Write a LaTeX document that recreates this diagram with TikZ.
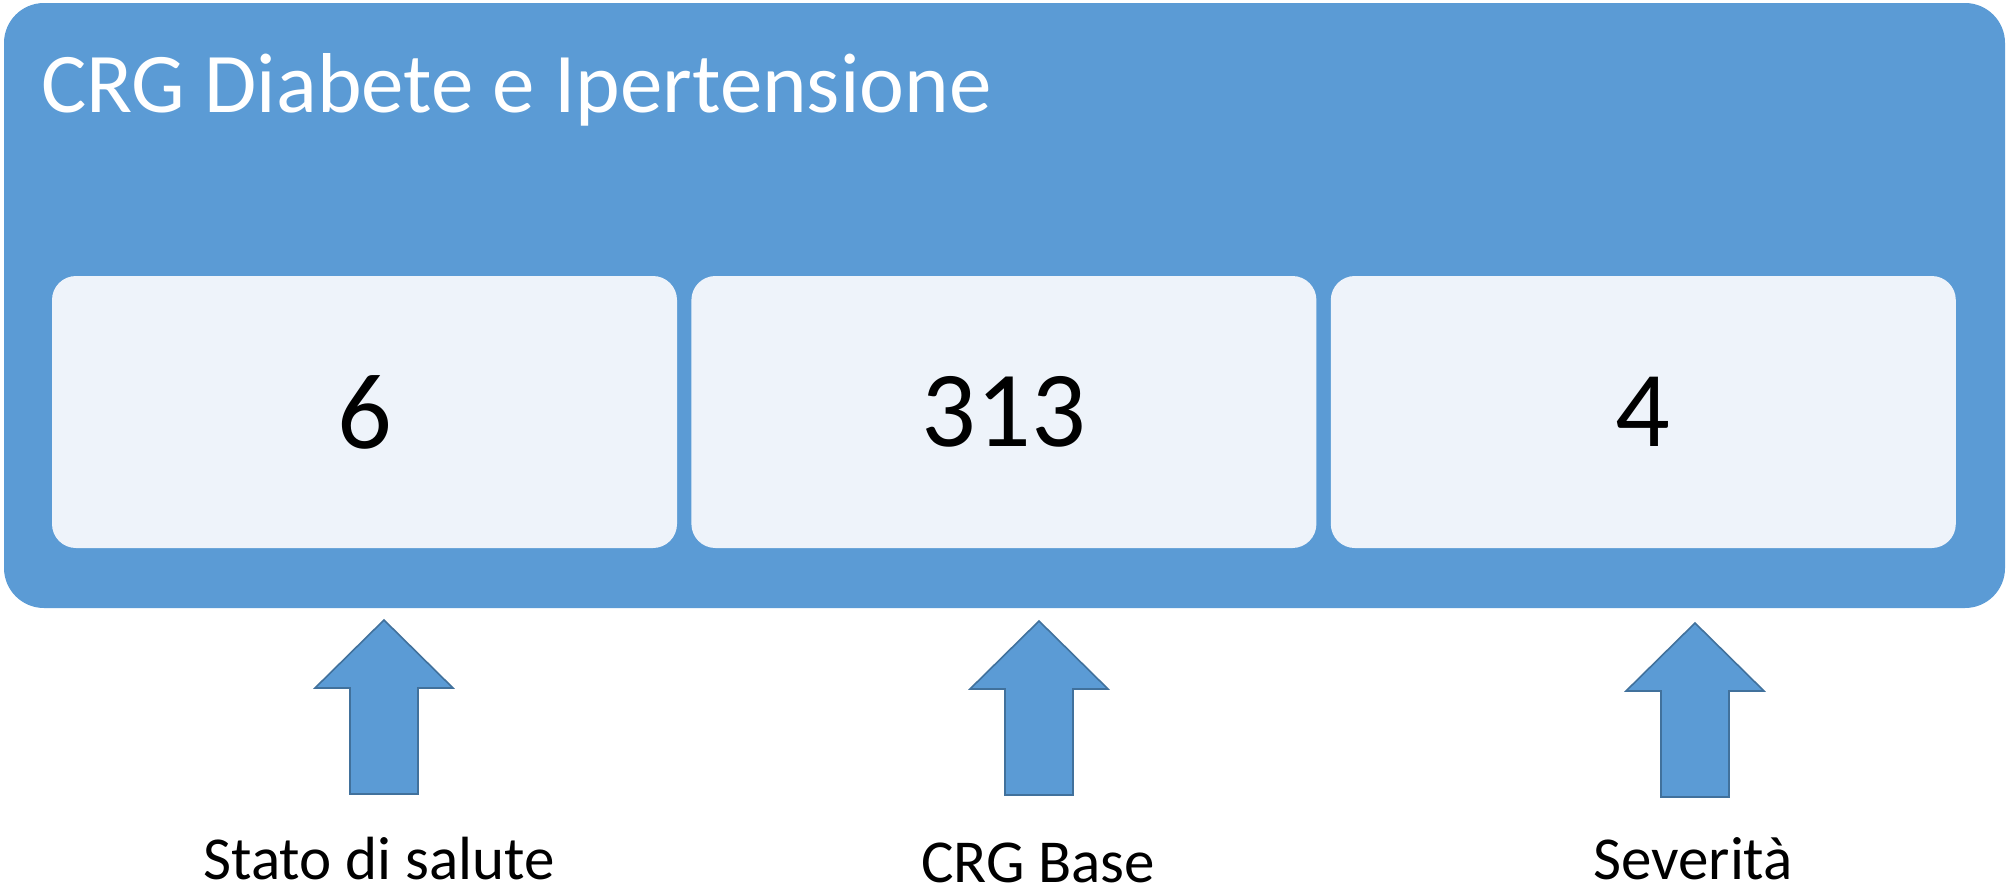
\documentclass[tikz,border=0pt]{standalone}
\usepackage{fontspec}
\setmainfont{Carlito}
\usepackage{xcolor}
\usepackage{tikz}
\usetikzlibrary{positioning}

\definecolor{crgblue}{HTML}{5B9BD5}
\definecolor{crglight}{HTML}{EEF3FA}
\definecolor{crgedge}{HTML}{41719C}

\tikzset{
    panel/.style={fill=crgblue, rounded corners=40pt, minimum width=2001pt, minimum height=605pt, inner sep=0pt},
    cell/.style={fill=crglight, rounded corners=24pt, minimum width=625pt, minimum height=272pt, inner sep=0pt, font=\fontsize{108}{120}\selectfont},
    titolo/.style={text=white, inner sep=0pt, font=\fontsize{85}{96}\selectfont},
    didascalia/.style={inner sep=0pt, font=\fontsize{61}{72}\selectfont},
    freccia/.style={fill=crgblue, draw=crgedge, line width=1.6pt, line join=miter},
    uparrow/.pic={
        \draw[freccia] (0,0) -- (69,68) -- (34,68) -- (34,174) -- (-34,174) -- (-34,68) -- (-69,68) -- cycle;
    }
}

\begin{document}
\begin{tikzpicture}[x=1pt, y=-1pt]
    \useasboundingbox (0,0) rectangle (2008,892);

    % Outer panel and title
    \node[panel] (crg) at (1004.5,305.5) {};
    \node[titolo, anchor=base west] (nome) at (41,112) {CRG Diabete e Ipertensione};

    % Code cells
    \node[cell] (stato) at (364.5,412) {6};
    \node[cell, right=14pt of stato] (base) {313};
    \node[cell, right=14pt of base] (sev) {4};

    % Block arrows
    \coordinate (pstato) at (384,620);
    \coordinate (pbase) at (1039,621);
    \coordinate (psev) at (1695,623);
    \foreach \p in {pstato,pbase,psev} {
        \pic at (\p) {uparrow};
    }

    % Captions
    \node[didascalia, anchor=base] (lstato) at (379,879) {Stato di salute};
    \node[didascalia, anchor=base] (lbase) at (1038,882) {CRG Base};
    \node[didascalia, anchor=base] (lsev) at (1693,879) {Severità};
\end{tikzpicture}
\end{document}
